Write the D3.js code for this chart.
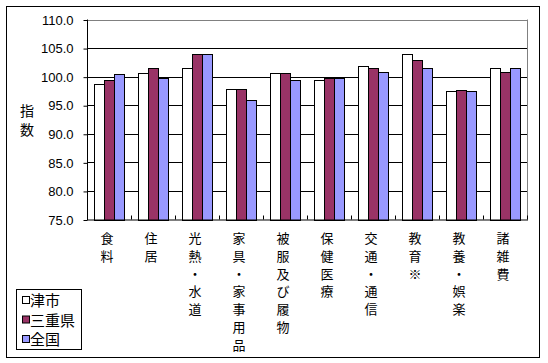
<!DOCTYPE html>
<html>
<head>
<meta charset="utf-8">
<script src="https://cdn.jsdelivr.net/npm/d3@7"></script>
<style>
  body { margin: 0; background: #fff; }
  text { font-family: "Noto Sans CJK JP", sans-serif; fill: #000; }
</style>
</head>
<body>
<script>
  var categories = ["食料", "住居", "光熱・水道", "家具・家事用品", "被服及び履物", "保健医療", "交通・通信", "教育※", "教養・娯楽", "諸雑費"];
  var seriesNames = ["津市", "三重県", "全国"];
  var tsu   = [98.7, 100.6, 101.6, 97.9, 100.6, 99.4, 101.8, 103.9, 97.4, 101.5];
  var mie   = [99.5, 101.6, 103.9, 97.9, 100.6, 99.7, 101.5, 102.9, 97.6, 100.8];
  var zenkoku = [100.4, 99.7, 103.9, 95.9, 99.4, 99.7, 100.8, 101.6, 97.4, 101.5];
  var colors = ["#ffffff", "#993366", "#9999ff"];
  var yTicks = [75, 80, 85, 90, 95, 100, 105, 110];

  var w = 548, h = 363;
  var pLeft = 87, pRight = 527, pTop = 19.5, pBottom = 219.5;

  var svg = d3.select("body").append("svg").attr("width", w).attr("height", h);

  // outer frame
  svg.append("rect").attr("x", 6.5).attr("y", 6.5).attr("width", 533).attr("height", 351)
    .attr("fill", "none").attr("stroke", "#000").attr("stroke-width", 1);

  var x = d3.scaleBand().domain(categories).range([pLeft, pRight]);
  var xs = d3.scaleBand().domain(seriesNames).range([0, 30]);
  var y = d3.scaleLinear().domain([75, 110]).range([pBottom, pTop]);

  // grid lines
  svg.append("g").selectAll("line").data(yTicks.slice(1)).enter().append("line")
    .attr("x1", pLeft).attr("x2", pRight)
    .attr("y1", function (d) { return Math.round(y(d)) + 0.5; })
    .attr("y2", function (d) { return Math.round(y(d)) + 0.5; })
    .attr("stroke", function (d) { return d === 110 ? "#808080" : "#000"; });
  svg.append("line").attr("x1", pRight + 0.5).attr("x2", pRight + 0.5)
    .attr("y1", pTop).attr("y2", pBottom).attr("stroke", "#808080");

  var data = [tsu, mie, zenkoku];
  var g = svg.append("g");
  categories.forEach(function (c, i) {
    seriesNames.forEach(function (s, j) {
      var v = data[j][i];
      g.append("rect")
        .attr("x", Math.round(x(c) + 7 + xs(s)) + 0.5)
        .attr("y", Math.round(y(v)) + 0.5)
        .attr("width", xs.bandwidth())
        .attr("height", Math.round(pBottom) - Math.round(y(v)))
        .attr("fill", colors[j]).attr("stroke", "#000");
    });
  });

  // y axis
  var yAxis = d3.axisLeft(y).tickValues(yTicks).tickSize(4).tickPadding(10)
    .tickFormat(d3.format(".1f"));
  svg.append("g").attr("transform", "translate(" + (pLeft + 0.5) + ",0.5)").call(yAxis)
    .call(function (g) {
      g.select(".domain").remove();
      g.selectAll("text").style("font-size", "13px").style("font-family", "'Liberation Sans', sans-serif");
    });
  svg.append("line").attr("x1", pLeft + 0.5).attr("x2", pLeft + 0.5).attr("y1", pTop).attr("y2", pBottom + 0.5).attr("stroke", "#000");

  // x axis line and ticks
  svg.append("line").attr("x1", pLeft).attr("x2", pRight + 1).attr("y1", pBottom + 0.5).attr("y2", pBottom + 0.5).attr("stroke", "#000");
  svg.append("g").selectAll("line").data(categories.slice(1).concat(["end"])).enter().append("line")
    .attr("x1", function (d) { return d === "end" ? pRight + 0.5 : Math.round(x(d)) + 0.5; })
    .attr("x2", function (d) { return d === "end" ? pRight + 0.5 : Math.round(x(d)) + 0.5; })
    .attr("y1", pBottom - 4).attr("y2", pBottom).attr("stroke", "#000");

  // category labels, vertical
  categories.forEach(function (c) {
    var t = svg.append("text").attr("text-anchor", "middle").style("font-size", "13px");
    c.split("").forEach(function (ch, k) {
      t.append("tspan").attr("x", x(c) + x.bandwidth() / 2 - 2).attr("y", 243 + k * 17.8).text(ch);
    });
  });

  // y title
  ["指", "数"].forEach(function (ch, k) {
    svg.append("text").attr("x", 27).attr("y", 116 + k * 19).attr("text-anchor", "middle")
      .style("font-size", "14px").text(ch);
  });

  // legend
  svg.append("rect").attr("x", 16.5).attr("y", 289.5).attr("width", 65).attr("height", 60)
    .attr("fill", "#fff").attr("stroke", "#000");
  seriesNames.forEach(function (s, j) {
    var cy = 300.5 + j * 19.5;
    svg.append("rect").attr("x", 22.5).attr("y", cy - 4).attr("width", 7).attr("height", 7)
      .attr("fill", colors[j]).attr("stroke", "#000");
    svg.append("text").attr("x", 30).attr("y", cy + 5.5).style("font-size", "15px").text(s);
  });
</script>
</body>
</html>
